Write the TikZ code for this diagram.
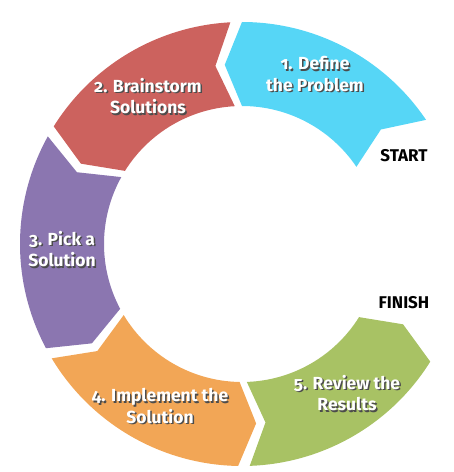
\documentclass[tikz,border=0pt]{standalone}
\usepackage{fontspec}
\setmainfont{Fira Sans}[Numbers=OldStyle]
\usepackage{tikz}
\usetikzlibrary{positioning}
\definecolor{cyanseg}{RGB}{86,214,246}
\definecolor{redseg}{RGB}{204,98,94}
\definecolor{purpleseg}{RGB}{139,118,176}
\definecolor{orangeseg}{RGB}{242,166,86}
\definecolor{greenseg}{RGB}{168,194,100}
\tikzstyle{lbl} = [text=white, align=center, inner sep=0pt,
    font=\bfseries\fontsize{17.5}{21.5}\selectfont]
\tikzstyle{lblshade} = [lbl, text=black!70]
\tikzstyle{endlbl} = [text=black, inner sep=0pt,
    font=\bfseries\fontsize{17}{20}\selectfont]

\begin{document}
\begin{tikzpicture}
  \useasboundingbox (-242pt,-228pt) rectangle (212pt,244pt);
  % ring segments, counterclockwise
  \fill[cyanseg] (34:222pt) arc[start angle=34, end angle=90, radius=222pt]
    -- (95.5:180pt) -- (90:138pt) arc[start angle=90, end angle=34, radius=138pt]
    -- (39.5:180pt) -- cycle;
  \fill[redseg] (93:222pt) arc[start angle=93, end angle=148, radius=222pt]
    -- (153.5:180pt) -- (148:138pt) arc[start angle=148, end angle=93, radius=138pt]
    -- (98.5:180pt) -- cycle;
  \fill[purpleseg] (151:222pt) arc[start angle=151, end angle=208, radius=222pt]
    -- (213.5:180pt) -- (208:138pt) arc[start angle=208, end angle=151, radius=138pt]
    -- (156.5:180pt) -- cycle;
  \fill[orangeseg] (211:222pt) arc[start angle=211, end angle=269, radius=222pt]
    -- (274.5:180pt) -- (269:138pt) arc[start angle=269, end angle=211, radius=138pt]
    -- (216.5:180pt) -- cycle;
  \fill[greenseg] (272:222pt) arc[start angle=272, end angle=328, radius=222pt]
    -- (333.5:180pt) -- (328:138pt) arc[start angle=328, end angle=272, radius=138pt]
    -- (277.5:180pt) -- cycle;
  % labels with shadow
  \node [lblshade] (s1) at (74.5pt,168.5pt) {1. Define\\the Problem};
  \node [lbl] (t1) at (73pt,170pt) {1. Define\\the Problem};
  \node [lblshade] (s2) at (-92.5pt,146.5pt) {2. Brainstorm\\Solutions};
  \node [lbl] (t2) at (-94pt,148pt) {2. Brainstorm\\Solutions};
  \node [lblshade] (s3) at (-178.5pt,-6.5pt) {3. Pick a\\Solution};
  \node [lbl] (t3) at (-180pt,-5pt) {3. Pick a\\Solution};
  \node [lblshade] (s4) at (-80.5pt,-163.5pt) {4. Implement the\\Solution};
  \node [lbl] (t4) at (-82pt,-162pt) {4. Implement the\\Solution};
  \node [lblshade] (s5) at (106.5pt,-150.5pt) {5. Review the\\Results};
  \node [lbl] (t5) at (105pt,-149pt) {5. Review the\\Results};
  \node [endlbl] (start) at (162pt,88pt) {START};
  \node [endlbl, below of=start, node distance=147pt] (finish) {FINISH};
\end{tikzpicture}
\end{document}
